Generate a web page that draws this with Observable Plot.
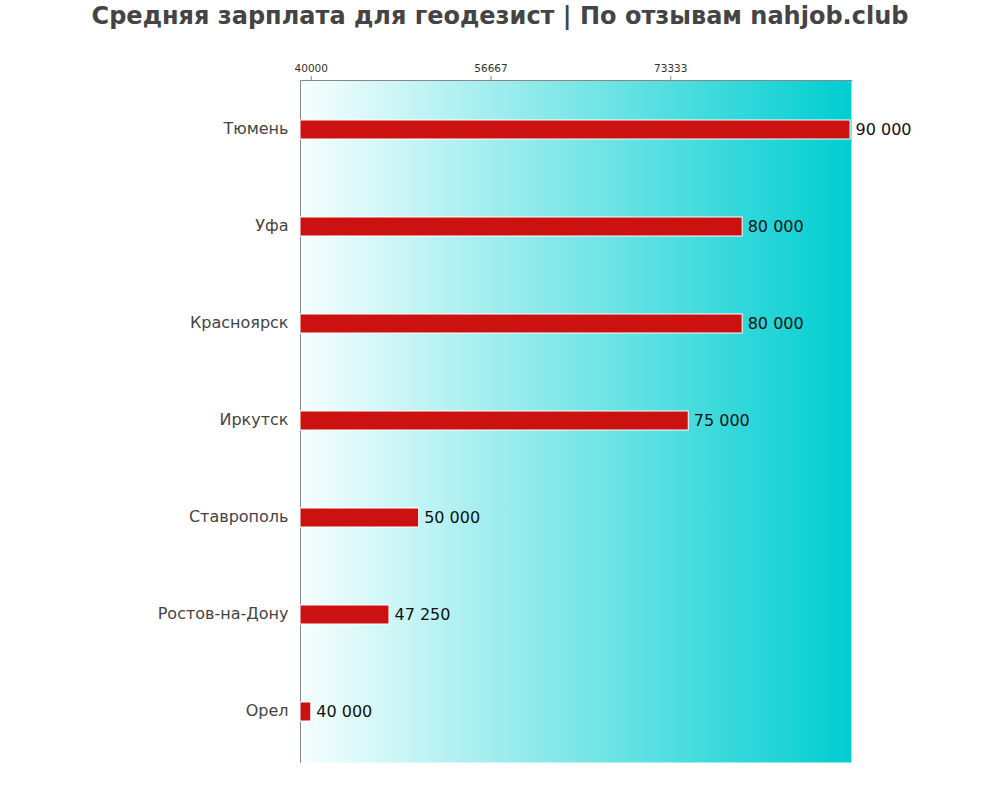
<!DOCTYPE html>
<html>
<head>
<meta charset="utf-8">
<script src="https://cdn.jsdelivr.net/npm/d3@7"></script>
<script src="https://cdn.jsdelivr.net/npm/@observablehq/plot@0.6"></script>
<style>
  body { margin: 0; background: #fff; font-family: "DejaVu Sans", sans-serif; }
  #title { height: 40px; line-height: 32px; text-align: center; font-weight: bold; font-size: 24px; color: #444; white-space: nowrap; }
</style>
</head>
<body>
<div id="title">Средняя зарплата для геодезист | По отзывам nahjob.club</div>
<div id="chart"></div>
<script>
const cities = ["Тюмень", "Уфа", "Красноярск", "Иркутск", "Ставрополь", "Ростов-на-Дону", "Орел"];
const salaries = [90000, 80000, 80000, 75000, 50000, 47250, 40000];
const tickValues = [40000, 56667, 73333];

const data = cities.map((c, i) => ({city: c, value: salaries[i]}));
const xMin = 39000, xMax = 90090;
const fmt = v => d3.format(",")(v).replace(/,/g, " ");

const gradientDefs = () => {
  const defs = d3.create("svg:defs");
  const g = defs.append("linearGradient").attr("id", "bgGrad").attr("x1", "0").attr("x2", "1").attr("y1", "0").attr("y2", "0");
  g.append("stop").attr("offset", "0%").attr("stop-color", "#f7fefe");
  g.append("stop").attr("offset", "100%").attr("stop-color", "#00ced1");
  return defs.node();
};

const chart = Plot.plot({
  width: 1000,
  height: 760,
  marginTop: 40,
  marginBottom: 38,
  marginLeft: 300,
  marginRight: 149,
  style: {fontFamily: "'DejaVu Sans', sans-serif", background: "transparent"},
  x: {domain: [xMin, xMax], axis: null},
  y: {domain: cities, paddingInner: 0.8, paddingOuter: 0.4, axis: null},
  marks: [
    gradientDefs,
    Plot.frame({fill: "url(#bgGrad)", stroke: "none"}),
    Plot.frame({anchor: "left", stroke: "#888"}),
    Plot.frame({anchor: "top", stroke: "#888"}),
    Plot.axisX(tickValues, {anchor: "top", tickSize: 5, tickPadding: 4, fontSize: 10.5, stroke: "#888", fill: "#333", tickFormat: d => String(d), label: null}),
    Plot.axisY({tickSize: 0, tickPadding: 12, fontSize: 16, dy: -1.5, fill: "#444", label: null}),
    Plot.barX(data, {y: "city", x1: xMin, x2: "value", fill: "#cc1111", stroke: "#fff", strokeWidth: 1}),
    Plot.text(data, {y: "city", x: "value", text: d => fmt(d.value), dx: 5, textAnchor: "start", fontSize: 16, fill: "#111"})
  ]
});
document.getElementById("chart").appendChild(chart);
</script>
</body>
</html>
